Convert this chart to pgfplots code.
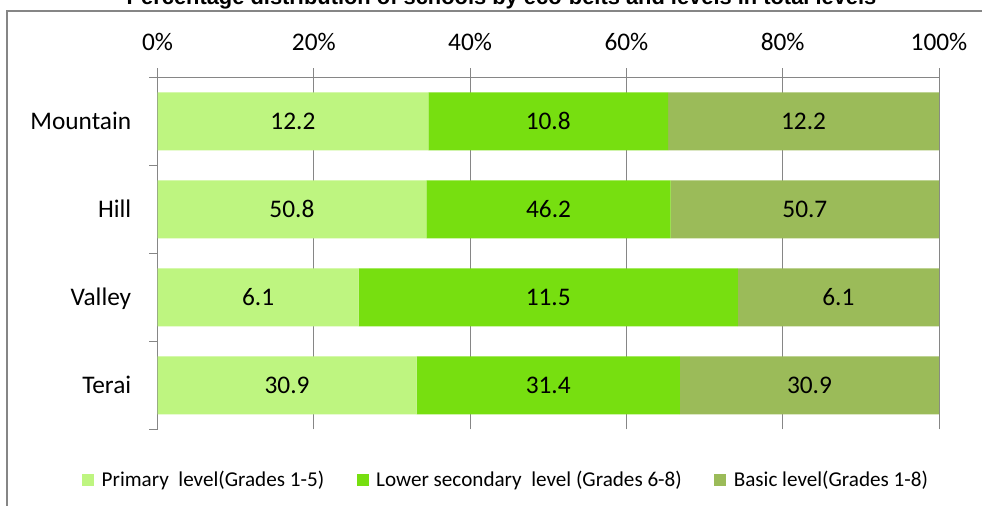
\documentclass[border=0pt]{standalone}
\usepackage{pgfplots}
\pgfplotsset{compat=1.18}
\usepackage{pgfplotstable}
\usepackage{fontspec}
\setmainfont{Carlito}
\newfontfamily\arialfont{Liberation Sans}
\definecolor{prim}{RGB}{190,245,128}
\definecolor{lows}{RGB}{119,223,16}
\definecolor{basic}{RGB}{155,187,89}
\definecolor{gridg}{RGB}{134,134,134}

% pos: 3 = Mountain (top) ... 0 = Terai (bottom)
% p,l,b = values shown; pp,lp,bp = share of the row in percent; c1..c3 = centres of the segments
\pgfplotstableread{
pos cat      p    l    b    pp     lp     bp     c1     c2     c3
3   Mountain 12.2 10.8 12.2 34.659 30.682 34.659 17.330 50.000 82.670
2   Hill     50.8 46.2 50.7 34.394 31.280 34.326 17.197 50.034 82.837
1   Valley   6.1  11.5 6.1  25.738 48.523 25.739 12.869 50.000 87.131
0   Terai    30.9 31.4 30.9 33.155 33.690 33.155 16.578 50.000 83.423
}\data

\begin{document}
\begin{tikzpicture}[x=0.75pt,y=0.75pt]
\begin{axis}[
  at={(118.125pt,57.525pt)}, anchor=south west,
  scale only axis, width=586.125pt, height=264pt,
  xbar stacked, bar width=0.66,
  xmin=0, xmax=100, ymin=-0.5, ymax=3.5,
  enlargelimits=false,
  axis x line*=top, axis y line*=left,
  axis line style={-, draw=gridg, line width=0.75pt},
  xtick={0,20,40,60,80,100},
  xticklabels={0\%,20\%,40\%,60\%,80\%,100\%},
  xtick pos=upper, xticklabel pos=upper,
  ytick={0,1,2,3},
  yticklabels={Terai,Valley,Hill,Mountain},
  ytick pos=left, yticklabel pos=left,
  minor ytick={-0.5,0.5,1.5,2.5,3.5},
  tick align=outside,
  major tick length=6.75pt, minor tick length=6pt,
  major x tick style={draw=gridg, line width=0.75pt},
  major y tick style={draw=none},
  minor y tick style={draw=gridg, line width=0.75pt},
  xmajorgrids, major x grid style={draw=gridg, line width=0.75pt},
  xticklabel style={font=\fontsize{19pt}{22pt}\selectfont, anchor=base, inner sep=0pt, yshift=13pt},
  yticklabel style={font=\fontsize{19pt}{22pt}\selectfont, anchor=base east, inner sep=0pt, yshift=-6.1pt, xshift=-12.75pt},
  legend style={at={(0.4466,-0.144)}, anchor=center, draw=none, fill=none,
    legend columns=3, font=\fontsize{15.85pt}{18pt}\selectfont,
    /tikz/every odd column/.append style={column sep=3.5pt},
    /tikz/every even column/.append style={column sep=22.5pt}},
  legend image code/.code={\fill[#1] (0pt,-4.5pt) rectangle (9pt,4.5pt);},
  legend cell align=left,
]
\addplot[fill=prim, draw=none] table[x=pp, y=pos] {\data};
\addlegendentry{Primary\ \ level(Grades 1-5)}
\addplot[fill=lows, draw=none] table[x=lp, y=pos] {\data};
\addlegendentry{Lower secondary\ \ level (Grades 6-8)}
\addplot[fill=basic, draw=none] table[x=bp, y=pos] {\data};
\addlegendentry{Basic level(Grades 1-8)}
\end{axis}
\begin{axis}[
  at={(118.125pt,57.525pt)}, anchor=south west,
  scale only axis, width=586.125pt, height=264pt,
  xmin=0, xmax=100, ymin=-0.5, ymax=3.5,
  hide axis, clip=false,
  nodes near coords={\pgfplotspointmeta},
  point meta=explicit symbolic,
  nodes near coords style={font=\fontsize{19pt}{22pt}\selectfont, anchor=base, inner sep=0pt, yshift=-6pt, text=black},
]
\addplot[only marks, mark=*, mark size=0pt, mark options={draw=none, fill=none}] table[x=c1, y=pos, meta=p] {\data};
\addplot[only marks, mark=*, mark size=0pt, mark options={draw=none, fill=none}] table[x=c2, y=pos, meta=l] {\data};
\addplot[only marks, mark=*, mark size=0pt, mark options={draw=none, fill=none}] table[x=c3, y=pos, meta=b] {\data};
\end{axis}
\draw[gridg, line width=1.5pt] (7,-10) -- (7,495.3) -- (995,495.3);
\node[anchor=base, inner sep=0pt, font=\arialfont\bfseries\fontsize{16.4pt}{19pt}\selectfont] at (501.5,501) {Percentage distribution of schools by eco-belts and levels in total levels};
\pgfresetboundingbox
\useasboundingbox (0,0) rectangle (982,506);
\end{tikzpicture}
\end{document}
